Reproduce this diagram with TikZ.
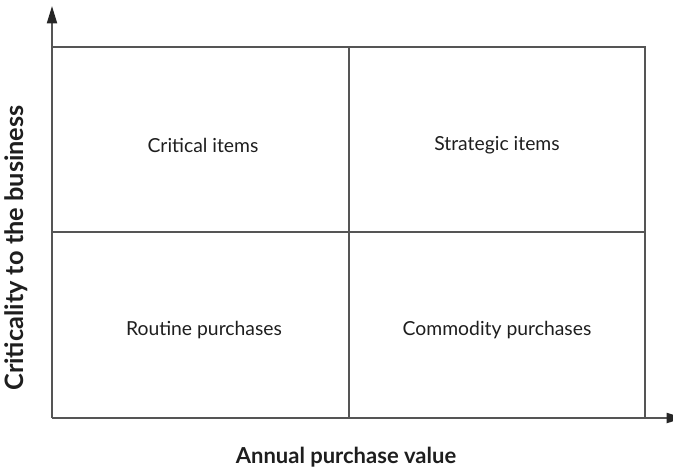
\documentclass[tikz,border=0pt]{standalone}
\usepackage{fontspec}
\setmainfont{Lato}
\usetikzlibrary{arrows.meta}
\definecolor{linegray}{HTML}{555555}
\definecolor{textdark}{HTML}{1E1E1E}
\begin{document}
\begin{tikzpicture}[x=0.75pt,y=-0.75pt,
  grid/.style={draw=linegray,line width=1.4pt},
  axisline/.style={draw=linegray,line width=1.4pt,-{Triangle[length=13pt,width=7.5pt,color=black!85]}},
  celltext/.style={font=\fontsize{14.5}{17}\selectfont,text=textdark},
  axislabel/.style={font=\bfseries\fontsize{16.5}{19}\selectfont,text=textdark}]
\useasboundingbox (0,0) rectangle (673,469);
\coordinate (o) at (52,418);
\coordinate (ytip) at (52,6);
\coordinate (xtip) at (684,418);
\coordinate (tl) at (52,47);
\coordinate (tr) at (645,47);
\coordinate (br) at (645,418);
\coordinate (tm) at (349,47);
\coordinate (bm) at (349,418);
\coordinate (ml) at (52,232);
\coordinate (mr) at (645,232);
\draw[grid] (tl) -- (tr) -- (br);
\draw[grid] (tm) -- (bm);
\draw[grid] (ml) -- (mr);
\draw[axisline] (o) -- (ytip);
\draw[axisline] (o) -- (xtip);
\node[celltext] (crit) at (203,145) {Critical items};
\node[celltext] (strat) at (497,145) {Strategic items};
\node[celltext] (rout) at (204,330) {Routine purchases};
\node[celltext] (comm) at (497,330) {Commodity purchases};
\node[axislabel,rotate=90,font=\bfseries\fontsize{19}{23}\selectfont] (ylab) at (16,248) {Criticality to the business};
\node[axislabel] (xlab) at (346,457) {Annual purchase value};
\end{tikzpicture}
\end{document}
